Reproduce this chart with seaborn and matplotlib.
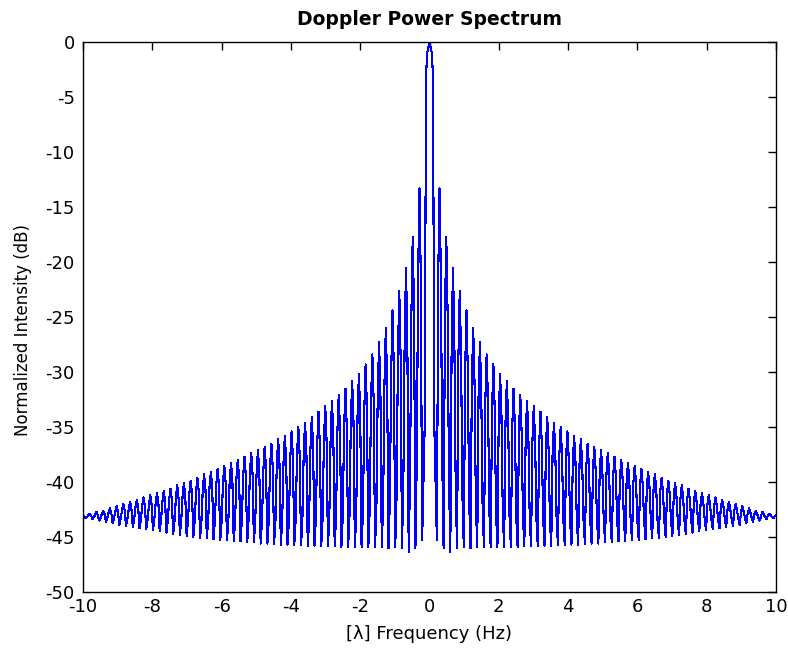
import numpy as np
import pandas as pd
import matplotlib
matplotlib.use("Agg")
import matplotlib.pyplot as plt
import seaborn as sns

# ---- data (dB) ----
# central lobe samples
center_freq = [-0.14, -0.10, -0.06, 0.0, 0.06, 0.10, 0.14]
center_db = [-35.0, -2.9, -0.9, 0.0, -0.9, -2.9, -35.0]

# one entry per side-lobe cycle, going outward from the centre (same on both sides)
peak_db = [-13.3, -17.7, -20.5, -22.6, -24.4, -26.0, -27.3, -28.4, -29.3, -30.2,
           -30.8, -31.5, -32.1, -32.6, -33.1, -33.6, -34.1, -34.6, -35.0, -35.4,
           -35.8, -36.1, -36.5, -36.8, -37.1, -37.4, -37.7, -38.0, -38.3, -38.5,
           -38.8, -39.1, -39.3, -39.6, -39.9, -40.1, -40.3, -40.6, -40.8, -41.0,
           -41.2, -41.4, -41.6, -41.8, -42.0, -42.2, -42.4, -42.6, -42.7, -42.9, -43.0]
shoulder_db = [-21.5, -24.8, -27.1, -28.7, -30.0, -31.0, -32.0, -32.7, -33.5, -34.0,
               -34.6, -35.1, -35.5, -35.9, -36.3, -36.7, -37.0, -37.3, -37.6, -37.9,
               -38.2, -38.4, -38.7, -38.9, -39.1, -39.3, -39.5, -39.7, -39.9, -40.1,
               -40.3, -40.5, -40.7, -40.9, -41.1, -41.3, -41.5, -41.6, -41.8, -41.9,
               -42.1, -42.2, -42.3, -42.5, -42.6, -42.7, -42.8, -42.9, -43.0, -43.0, -43.1]
bar_bottom_db = [-38.0, -39.5, -40.5, -41.2, -41.7, -42.1, -42.4, -42.6, -42.8, -43.0,
                 -43.1, -43.2, -43.3, -43.3, -43.4, -43.4, -43.4, -43.5, -43.5, -43.5,
                 -43.5, -43.5, -43.5, -43.5, -43.5, -43.5, -43.5, -43.5, -43.5, -43.5,
                 -43.5, -43.5, -43.5, -43.5, -43.5, -43.5, -43.5, -43.5, -43.4, -43.4,
                 -43.4, -43.4, -43.4, -43.3, -43.3, -43.3, -43.3, -43.3, -43.2, -43.2, -43.2]
trough_db = [-45.3, -46.0, -46.4, -46.0, -45.9, -46.0, -45.9, -45.9, -45.9, -45.9,
             -45.9, -45.9, -45.9, -45.8, -45.8, -45.8, -45.8, -45.8, -45.7, -45.7,
             -45.7, -45.7, -45.6, -45.6, -45.6, -45.5, -45.5, -45.4, -45.4, -45.3,
             -45.3, -45.2, -45.1, -45.1, -45.0, -44.9, -44.8, -44.7, -44.6, -44.5,
             -44.4, -44.3, -44.2, -44.1, -44.0, -43.9, -43.7, -43.6, -43.5, -43.4, -43.3]

first_lobe_freq = 0.29
last_lobe_freq = 10.0

xticks = [-10, -8, -6, -4, -2, 0, 2, 4, 6, 8, 10]
yticks = [-50, -45, -40, -35, -30, -25, -20, -15, -10, -5, 0]

# ---- assemble the trace ----
n_lobes = len(peak_db)
lobe_centres = np.linspace(first_lobe_freq, last_lobe_freq, n_lobes)
step = (lobe_centres[1] - lobe_centres[0]) / 5.0

right_f, right_v = [], []
for c, t, m, p, b in zip(lobe_centres, trough_db, shoulder_db, peak_db, bar_bottom_db):
    right_f += [c - 2 * step, c - step, c, c + step, c + 2 * step]
    right_v += [t, m, p, m, b]

left_f = [-f for f in right_f[::-1]]
left_v = right_v[::-1]

freq = left_f + center_freq + right_f
db = left_v + center_db + right_v
df = pd.DataFrame({"freq": freq, "db": db})

# ---- figure ----
sns.set_style("white")
plt.rcParams["font.family"] = ["DejaVu Sans"]
plt.rcParams["text.color"] = "black"
plt.rcParams["axes.labelcolor"] = "black"

fig = plt.figure(figsize=(7.88, 6.51), dpi=100)
ax = fig.add_axes([83 / 788, 59 / 651, 693 / 788, 550 / 651])

sns.lineplot(data=df, x="freq", y="db", color="#0000ff", linewidth=0.8,
             estimator=None, sort=False, ax=ax, antialiased=False)

ax.set_xlim(-10, 10)
ax.set_ylim(-50, 0)
ax.set_xticks(xticks)
ax.set_yticks(yticks)
ax.set_xticklabels([str(t) for t in xticks])
ax.set_yticklabels([str(t) for t in yticks])
ax.tick_params(axis="both", direction="in", length=6, width=1, top=True, right=True,
               labelsize=13, colors="black")
ax.tick_params(axis="x", pad=4.5)
ax.tick_params(axis="y", pad=6)
for s in ax.spines.values():
    s.set_visible(True)
    s.set_color("black")
    s.set_linewidth(1.0)

ax.set_title("Doppler Power Spectrum", fontsize=13.5, fontweight="bold", pad=12,
             color="black")
ax.set_xlabel("[λ] Frequency (Hz)", fontsize=13, labelpad=6, color="black")
ax.set_ylabel("Normalized Intensity (dB)", fontsize=12, color="black")
ax.yaxis.set_label_coords(-0.074, 0.477)

fig.savefig("out.png", dpi=100, facecolor="white")
